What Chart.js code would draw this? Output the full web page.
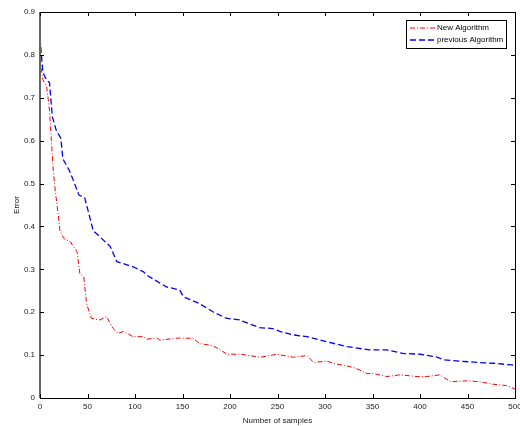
<!DOCTYPE html>
<html>
<head>
<meta charset="utf-8">
<script src="https://cdn.jsdelivr.net/npm/chart.js@4.4.0/dist/chart.umd.min.js"></script>
<style>
  html, body { margin: 0; padding: 0; background: #fff; }
  #wrap { width: 520px; height: 426px; }
</style>
</head>
<body>
<div id="wrap"><canvas id="chart" width="520" height="426"></canvas></div>
<script>
// values
let prevX = [0, 3, 6, 10, 13, 17, 22, 24, 31, 35, 41, 47, 52, 56, 63, 74, 81, 98, 109, 112, 133, 147, 151, 168, 182, 196, 210, 231, 245, 253, 267, 281, 302, 323, 347, 365, 382, 400, 417, 425, 442, 460, 477, 497, 500];
let prevY = [0.84, 0.76, 0.745, 0.735, 0.656, 0.625, 0.605, 0.558, 0.53, 0.508, 0.473, 0.467, 0.425, 0.39, 0.376, 0.353, 0.318, 0.306, 0.294, 0.287, 0.259, 0.252, 0.236, 0.22, 0.201, 0.186, 0.182, 0.164, 0.162, 0.155, 0.147, 0.143, 0.131, 0.12, 0.112, 0.112, 0.104, 0.102, 0.096, 0.089, 0.086, 0.083, 0.081, 0.077, 0.075];

let newX = [0, 1, 3, 7, 10, 12, 14, 16, 19, 21, 25, 32, 39, 42, 46, 49, 54, 63, 70, 77, 82, 88, 98, 109, 112, 123, 126, 147, 161, 168, 182, 189, 197, 211, 232, 249, 267, 281, 288, 302, 312, 323, 333, 344, 351, 365, 379, 397, 407, 421, 432, 449, 463, 477, 491, 500];
let newY = [0.84, 0.77, 0.742, 0.726, 0.671, 0.6, 0.53, 0.485, 0.43, 0.39, 0.372, 0.364, 0.341, 0.29, 0.283, 0.22, 0.186, 0.182, 0.19, 0.162, 0.151, 0.155, 0.143, 0.143, 0.137, 0.14, 0.135, 0.14, 0.139, 0.127, 0.122, 0.113, 0.102, 0.102, 0.095, 0.102, 0.095, 0.099, 0.083, 0.086, 0.079, 0.075, 0.069, 0.057, 0.057, 0.05, 0.054, 0.05, 0.05, 0.054, 0.038, 0.04, 0.038, 0.032, 0.029, 0.021];

let labels = ["New Algorithm", "previous Algorithm"];

function toPoints(xs, ys) {
  return xs.map((x, i) => ({ x: x, y: ys[i] }));
}

let fontFamily = "'Liberation Sans', Arial, sans-serif";
Chart.defaults.font.family = fontFamily;
Chart.defaults.font.size = 8;
Chart.defaults.color = "#1a1a1a";

// matlab style frame, inward ticks and boxed legend
let matlabFrame = {
  id: "matlabFrame",
  afterDraw(chart) {
    let ctx = chart.ctx;
    let a = chart.chartArea;
    let xs = chart.scales.x;
    let ys = chart.scales.y;
    ctx.save();
    ctx.strokeStyle = "#000";
    ctx.lineWidth = 1;
    ctx.strokeRect(Math.round(a.left) + 0.5, Math.round(a.top) + 0.5, Math.round(a.right - a.left), Math.round(a.bottom - a.top));
    ctx.strokeStyle = "#666";
    ctx.lineWidth = 2;
    ctx.beginPath();
    ctx.moveTo(Math.round(a.left), a.top);
    ctx.lineTo(Math.round(a.left), a.bottom);
    ctx.stroke();

    ctx.strokeStyle = "#000";
    ctx.lineWidth = 1;
    ctx.beginPath();
    xs.ticks.forEach((t) => {
      let px = Math.round(xs.getPixelForValue(t.value)) + 0.5;
      ctx.moveTo(px, a.bottom);
      ctx.lineTo(px, a.bottom - 4);
      ctx.moveTo(px, a.top);
      ctx.lineTo(px, a.top + 4);
    });
    ys.ticks.forEach((t) => {
      let py = Math.round(ys.getPixelForValue(t.value)) + 0.5;
      ctx.moveTo(a.left, py);
      ctx.lineTo(a.left + 4, py);
      ctx.moveTo(a.right, py);
      ctx.lineTo(a.right - 4, py);
    });
    ctx.stroke();

    // legend box
    let bx = 406, by = 20, bw = 100, bh = 28;
    ctx.fillStyle = "#fff";
    ctx.fillRect(bx, by, bw, bh);
    ctx.strokeStyle = "#000";
    ctx.strokeRect(bx + 0.5, by + 0.5, bw, bh);
    ctx.font = "8px " + fontFamily;
    ctx.textBaseline = "middle";
    chart.data.datasets.forEach((ds, i) => {
      let ly = by + 8 + i * 12;
      ctx.strokeStyle = ds.borderColor;
      ctx.lineWidth = ds.borderWidth;
      ctx.setLineDash(ds.borderDash);
      ctx.beginPath();
      ctx.moveTo(bx + 4, ly);
      ctx.lineTo(bx + 30, ly);
      ctx.stroke();
      ctx.setLineDash([]);
      ctx.fillStyle = "#000";
      ctx.fillText(ds.label, bx + 31, ly);
    });
    ctx.restore();
  },
};

new Chart(document.getElementById("chart"), {
  type: "line",
  data: {
    datasets: [
      {
        label: labels[0],
        data: toPoints(newX, newY),
        borderColor: "#ff0000",
        borderWidth: 1,
        borderDash: [5, 2, 1, 2],
        pointRadius: 0,
        tension: 0,
      },
      {
        label: labels[1],
        data: toPoints(prevX, prevY),
        borderColor: "#0000ff",
        borderWidth: 1.3,
        borderDash: [6, 3],
        pointRadius: 0,
        tension: 0,
      },
    ],
  },
  options: {
    responsive: false,
    animation: false,
    layout: { autoPadding: false, padding: { top: 12, right: 5, left: 0, bottom: 0 } },
    plugins: { legend: { display: false }, tooltip: { enabled: false } },
    scales: {
      x: {
        type: "linear",
        min: 0,
        max: 500,
        ticks: { stepSize: 50, padding: 4, maxRotation: 0 },
        grid: { display: false, drawTicks: false },
        border: { display: false },
        title: { display: true, text: "Number of samples", padding: { top: 4, bottom: 0 } },
        afterFit(scale) {
          scale.height = 28;
          scale.paddingLeft = 0;
          scale.paddingRight = 0;
        },
      },
      y: {
        min: 0,
        max: 0.9,
        ticks: { stepSize: 0.1, padding: 5 },
        grid: { display: false, drawTicks: false },
        border: { display: false },
        title: { display: true, text: "Error", padding: { top: 12, bottom: 0 } },
        afterFit(scale) {
          scale.width = 40;
          scale.paddingTop = 0;
          scale.paddingBottom = 0;
        },
      },
    },
  },
  plugins: [matlabFrame],
});
</script>
</body>
</html>
